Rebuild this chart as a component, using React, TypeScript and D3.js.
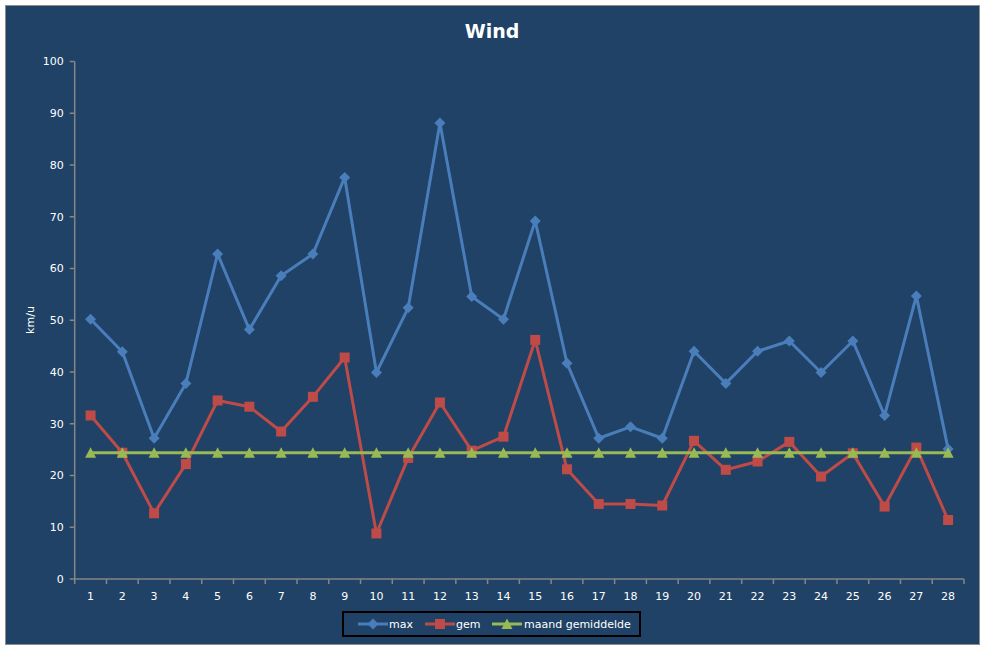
import React from 'react';
import * as d3 from 'd3';

// days of the month
const days = d3.range(1, 29).map(String);

// km/u per day
const maxWind = [50.2, 43.9, 27.2, 37.8, 62.8, 48.2, 58.6, 62.8, 77.6, 39.9, 52.4, 88.1, 54.6, 50.2,
  69.2, 41.7, 27.2, 29.4, 27.2, 44.0, 37.8, 44.0, 46.0, 39.9, 46.0, 31.6, 54.7, 25.1];
const gemWind = [31.6, 24.4, 12.7, 22.2, 34.5, 33.3, 28.5, 35.2, 42.8, 8.8, 23.4, 34.1, 24.8, 27.5,
  46.2, 21.2, 14.5, 14.5, 14.2, 26.7, 21.1, 22.7, 26.5, 19.8, 24.3, 14.0, 25.4, 11.4];
const maandGem = days.map(() => 24.4);

const yTicks = [0, 10, 20, 30, 40, 50, 60, 70, 80, 90, 100];

const BG = '#1f4266';
const AXIS = '#868686';
const FONT = 'Tahoma, "DejaVu Sans", Verdana, sans-serif';

const series = [
  { name: 'max', values: maxWind, color: '#4a7ebb', marker: 'diamond' },
  { name: 'gem', values: gemWind, color: '#be4b48', marker: 'square' },
  { name: 'maand gemiddelde', values: maandGem, color: '#98b954', marker: 'triangle' },
];

const W = 987;
const H = 648;
const plot = { left: 74.7, right: 964, top: 61.5, bottom: 579 };

const marker = (type: string, x: number, y: number, color: string, key?: string | number) => {
  if (type === 'diamond') {
    const s = 5.5;
    return <path key={key} d={`M${x},${y - s}L${x + s},${y}L${x},${y + s}L${x - s},${y}Z`} fill={color} />;
  }
  if (type === 'square') {
    const s = 5;
    return <rect key={key} x={x - s} y={y - s} width={s * 2} height={s * 2} fill={color} />;
  }
  const s = 5.5;
  return <path key={key} d={`M${x},${y - s}L${x + s},${y + s - 0.5}L${x - s},${y + s - 0.5}Z`} fill={color} />;
};

export default function App() {
  const x = d3.scaleBand().domain(days).range([plot.left, plot.right]);
  const y = d3.scaleLinear().domain([0, 100]).range([plot.bottom, plot.top]);
  const cx = (d: string) => (x(d) ?? 0) + x.bandwidth() / 2;

  const line = d3.line<number>()
    .x((_, i) => cx(days[i]))
    .y(v => y(v));

  const boundaries = days.map(d => x(d) ?? 0).concat(plot.right);

  const legendItems = [
    { lx: 358, tx: 389 },
    { lx: 425, tx: 456 },
    { lx: 492, tx: 524 },
  ];

  return (
    <svg
      width={W}
      height={H}
      style={{ position: 'absolute', left: 0, top: 0, display: 'block', background: '#fff' }}
    >
      <rect x={5.5} y={5.5} width={974} height={639} fill={BG} stroke="#8c8c8c" strokeWidth={1} />

      <text x={492} y={38} textAnchor="middle" fill="#fff" fontFamily={FONT} fontWeight="bold" fontSize={19}>
        Wind
      </text>

      <text
        transform="translate(34,320) rotate(-90)"
        textAnchor="middle"
        fill="#fff"
        fontFamily={FONT}
        fontSize={11}
      >
        km/u
      </text>

      {/* y axis */}
      <line x1={plot.left} x2={plot.left} y1={plot.top} y2={plot.bottom} stroke={AXIS} strokeWidth={1.5} />
      {yTicks.map(t => (
        <g key={t}>
          <line x1={plot.left - 5} x2={plot.left} y1={y(t)} y2={y(t)} stroke={AXIS} strokeWidth={1.5} />
          <text x={plot.left - 11} y={y(t)} dy="0.35em" textAnchor="end" fill="#fff" fontFamily={FONT} fontSize={11}>
            {t}
          </text>
        </g>
      ))}

      {/* x axis */}
      <line x1={plot.left} x2={plot.right} y1={plot.bottom} y2={plot.bottom} stroke={AXIS} strokeWidth={1.5} />
      {boundaries.map((b, i) => (
        <line key={i} x1={b} x2={b} y1={plot.bottom} y2={plot.bottom + 5} stroke={AXIS} strokeWidth={1.5} />
      ))}
      {days.map(d => (
        <text key={d} x={cx(d)} y={600} textAnchor="middle" fill="#fff" fontFamily={FONT} fontSize={11}>
          {d}
        </text>
      ))}

      {/* series */}
      {series.map(s => (
        <g key={s.name}>
          <path d={line(s.values) ?? ''} fill="none" stroke={s.color} strokeWidth={3} strokeLinejoin="round" />
          {s.values.map((v, i) => marker(s.marker, cx(days[i]), y(v), s.color, i))}
        </g>
      ))}

      {/* legend */}
      <rect x={343} y={612} width={297} height={24} fill="none" stroke="#000" strokeWidth={2} />
      {series.map((s, i) => {
        const it = legendItems[i];
        return (
          <g key={s.name}>
            <line x1={it.lx} x2={it.lx + 30} y1={624} y2={624} stroke={s.color} strokeWidth={3} />
            {marker(s.marker, it.lx + 15, 624, s.color)}
            <text x={it.tx} y={624} dy="0.35em" fill="#fff" fontFamily={FONT} fontSize={11}>
              {s.name}
            </text>
          </g>
        );
      })}
    </svg>
  );
}
